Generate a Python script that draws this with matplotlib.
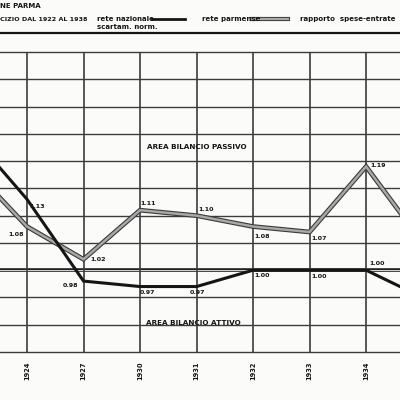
import numpy as np
import matplotlib.pyplot as plt
import matplotlib.patheffects as pe
from matplotlib.lines import Line2D

# years on the category axis (first and last sit just outside the crop)
years = ["1922", "1924", "1927", "1930", "1931", "1932", "1933", "1934", "1935"]
# rapporto spese-entrate
rete_nazionale = [1.25, 1.13, 0.98, 0.97, 0.97, 1.00, 1.00, 1.00, 0.95]
rete_parmense = [1.19, 1.08, 1.02, 1.11, 1.10, 1.08, 1.07, 1.19, 1.05]
grid_levels = [0.85, 0.90, 0.95, 1.00, 1.05, 1.10, 1.15, 1.20, 1.25, 1.30, 1.35, 1.40]

# label offsets in points (dx, dy, ha) for every visible point
naz_offsets = [None, (2, -5, "left"), (-3.5, -3, "right"), (0, -4.5, "left"),
               (1, -4.5, "center"), (1, -4, "left"), (1, -4.5, "left"),
               (2, 5, "left"), None]
parm_offsets = [None, (-2, -6, "right"), (5, -0.5, "left"), (0, 4.5, "left"),
                (1, 4.5, "left"), (1, -7, "left"), (1, -5, "left"),
                (3, 1, "left"), None]

paper = "#fbfbfa"
ink = "#151515"
gridc = "#3c3c3c"
grey_edge = "#3a3a3a"
grey_core = "#a8a8a8"

fig = plt.figure(figsize=(4, 4), dpi=100, facecolor=paper)
ax = fig.add_axes([0, 0.12, 1, 0.75])
ax.set_facecolor(paper)

x = np.arange(len(years)) - 1  # 1924 -> 0
visible = (x >= 0) & (x <= 6)

for lv in grid_levels:
    if lv == 1.00:
        ax.axhline(lv, color="#202020", lw=2.6, zorder=1)
        ax.axhline(lv, color="#d8d8d8", lw=0.7, zorder=1)
    else:
        ax.axhline(lv, color=gridc, lw=1.0, zorder=1, clip_on=False)
for xi in x[visible]:
    ax.axvline(xi, color=gridc, lw=1.2, zorder=1)

ax.plot(x, rete_parmense, color=grey_core, lw=1.8, zorder=3,
        solid_joinstyle="miter",
        path_effects=[pe.Stroke(linewidth=3.4, foreground=grey_edge), pe.Normal()])
ax.plot(x, rete_nazionale, color=ink, lw=2.2, zorder=4, solid_joinstyle="miter")

lab = dict(fontsize=4.6, fontweight="bold", color=ink, va="center",
           textcoords="offset points", zorder=6)
for xi, v, off in zip(x, rete_nazionale, naz_offsets):
    if off:
        ax.annotate(f"{v:.2f}", (xi, v), xytext=(off[0], off[1]), ha=off[2], **lab)
for xi, v, off in zip(x, rete_parmense, parm_offsets):
    if off:
        ax.annotate(f"{v:.2f}", (xi, v), xytext=(off[0], off[1]), ha=off[2], **lab)

ax.text(3.0, 1.225, "AREA BILANCIO PASSIVO", ha="center", va="center",
        fontsize=5.2, fontweight="bold", color=ink, zorder=6)
ax.text(2.95, 0.903, "AREA BILANCIO ATTIVO", ha="center", va="center",
        fontsize=5.2, fontweight="bold", color=ink, zorder=6)

ax.set_xticks(x[visible])
ax.set_xticklabels([y for y, v in zip(years, visible) if v], rotation=90,
                   fontsize=4.8, fontweight="bold", color=ink)
ax.tick_params(axis="x", length=0, pad=7)
ax.set_yticks([])
ax.set_xlim(-0.478, 6.60)
ax.set_ylim(0.85, 1.40)
for s in ax.spines.values():
    s.set_visible(False)

# header
fig.text(0.0, 0.985, "NE PARMA", fontsize=5, fontweight="bold", color=ink, va="center")
fig.text(0.0, 0.952, "CIZIO DAL 1922 AL 1938", fontsize=4.6, fontweight="bold",
         color=ink, va="center")
fig.text(0.243, 0.952, "rete nazionale", fontsize=5, fontweight="bold", color=ink, va="center")
fig.text(0.243, 0.932, "scartam. norm.", fontsize=5, fontweight="bold", color=ink, va="center")
fig.text(0.505, 0.952, "rete parmense", fontsize=5, fontweight="bold", color=ink, va="center")
fig.text(0.75, 0.952, "rapporto  spese-entrate", fontsize=5, fontweight="bold",
         color=ink, va="center")
fig.add_artist(Line2D([0.38, 0.462], [0.952, 0.952], color=ink, lw=2.0))
fig.add_artist(Line2D([0.63, 0.72], [0.952, 0.952], color=grey_core, lw=1.6,
                      path_effects=[pe.Stroke(linewidth=3.0, foreground=grey_edge), pe.Normal()]))
fig.add_artist(Line2D([0, 1], [0.9175, 0.9175], color=ink, lw=1.6))

fig.savefig("out.png", dpi=100, facecolor=paper)
